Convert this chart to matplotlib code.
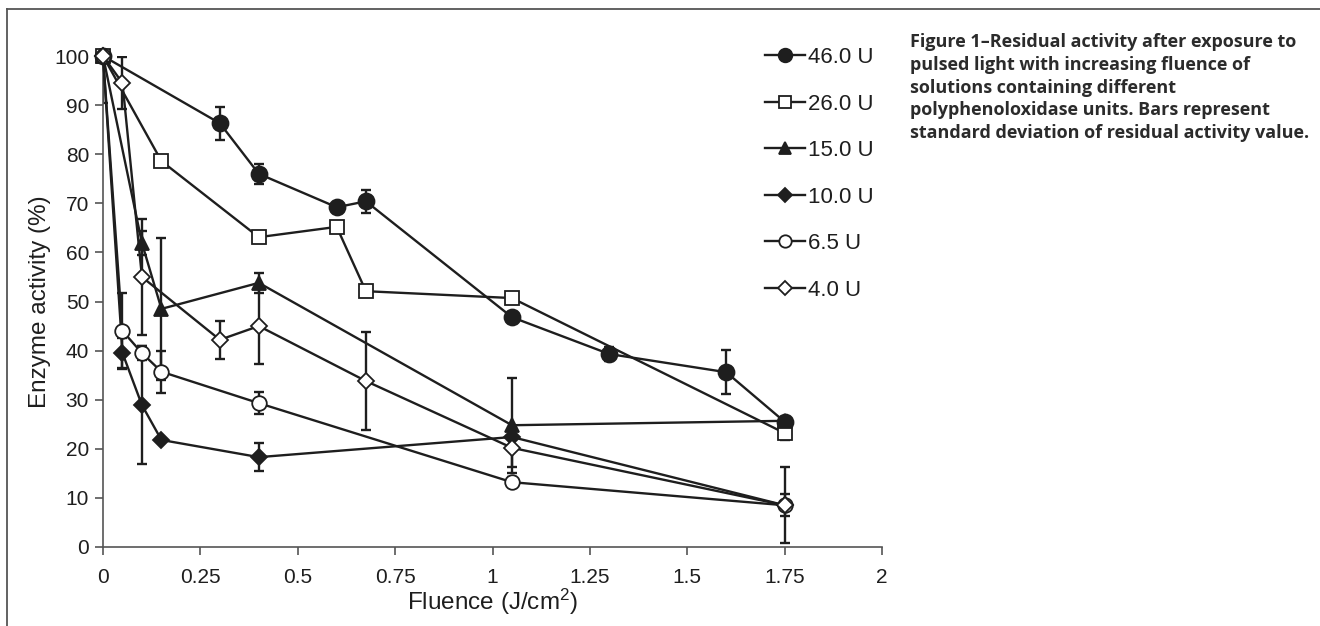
import numpy as np
import matplotlib
matplotlib.use('Agg')
import matplotlib.pyplot as plt
from matplotlib.lines import Line2D

plt.rcParams['font.family'] = ['Liberation Sans', 'DejaVu Sans']
plt.rcParams['mathtext.fontset'] = 'custom'
plt.rcParams['mathtext.rm'] = 'Liberation Sans'
plt.rcParams['mathtext.it'] = 'Liberation Sans'

# data: fluence (J/cm2), activity (%), std dev
labels = ['46.0 U', '26.0 U', '15.0 U', '10.0 U', '6.5 U', '4.0 U']

x_46 = [0, 0.3, 0.4, 0.6, 0.675, 1.05, 1.3, 1.6, 1.75]
y_46 = [100, 86.3, 76.0, 69.2, 70.4, 46.8, 39.3, 35.6, 25.5]
e_46 = [0, 3.4, 2.0, 0, 2.3, 0, 1.5, 4.5, 1.0]

x_26 = [0, 0.15, 0.4, 0.6, 0.675, 1.05, 1.75]
y_26 = [100, 78.6, 63.1, 65.2, 52.1, 50.7, 23.2]
e_26 = [0, 0, 0, 0, 0, 0, 1.5]

x_15 = [0, 0.1, 0.15, 0.4, 1.05, 1.75]
y_15 = [100, 61.9, 48.5, 53.8, 24.8, 25.7]
e_15 = [0, 2.4, 14.4, 2.0, 9.7, 0.5]

x_10 = [0, 0.05, 0.1, 0.15, 0.4, 1.05, 1.75]
y_10 = [100, 39.5, 28.9, 21.8, 18.3, 22.4, 8.5]
e_10 = [0, 3.0, 12.0, 0, 2.9, 0, 2.2]

x_6 = [0, 0.05, 0.1, 0.15, 0.4, 1.05, 1.75]
y_6 = [100, 44.0, 39.5, 35.7, 29.3, 13.2, 8.5]
e_6 = [0, 7.7, 1.5, 4.3, 2.2, 1.0, 0.5]

x_4 = [0, 0.05, 0.1, 0.3, 0.4, 0.675, 1.05, 1.75]
y_4 = [100, 94.5, 55.0, 42.2, 45.0, 33.8, 20.2, 8.5]
e_4 = [9.5, 5.3, 11.8, 3.9, 7.8, 10.0, 4.0, 7.7]

xticks = [0, 0.25, 0.5, 0.75, 1, 1.25, 1.5, 1.75, 2]
xticklabels = ['0', '0.25', '0.5', '0.75', '1', '1.25', '1.5', '1.75', '2']
yticks = list(range(0, 101, 10))

caption = ('Figure 1\u2013Residual activity after exposure to\n'
           'pulsed light with increasing fluence of\n'
           'solutions containing different\n'
           'polyphenoloxidase units. Bars represent\n'
           'standard deviation of residual activity value.')

ink = '#1e1e1e'
series = [
    (x_46, y_46, e_46, 'o', ink, 11.5),
    (x_26, y_26, e_26, 's', 'white', 9.5),
    (x_15, y_15, e_15, '^', ink, 10.5),
    (x_10, y_10, e_10, 'D', ink, 8.5),
    (x_6, y_6, e_6, 'o', 'white', 10.5),
    (x_4, y_4, e_4, 'D', 'white', 8.5),
]

fig = plt.figure(figsize=(13.2, 6.26), dpi=100)
ax = fig.add_axes([103/1320, 1 - 547/626, (882-103)/1320, (547-56)/626])

for (x, y, e, m, fc, ms), lab in zip(series, labels):
    ax.errorbar(x, y, yerr=e, fmt='none', ecolor=ink, elinewidth=1.7,
                capsize=3.6, capthick=1.7, zorder=2)
    ax.plot(x, y, marker=m, color=ink, mfc=fc, mec=ink, mew=1.3, ms=ms,
            lw=1.7, label=lab, clip_on=False, zorder=3)

ax.set_xlim(0, 2)
ax.set_ylim(0, 100)
ax.set_xticks(xticks)
ax.set_xticklabels(xticklabels)
ax.set_yticks(yticks)
for s in ['top', 'right']:
    ax.spines[s].set_visible(False)
for s in ['left', 'bottom']:
    ax.spines[s].set_color('#555555')
    ax.spines[s].set_linewidth(1.2)
ax.tick_params(direction='out', length=6, width=1.2, color='#555555',
               labelsize=15, labelcolor=ink, pad=4)
ax.tick_params(axis='x', pad=9)
ax.set_xlabel('Fluence (J/cm$^{2}$)', fontsize=17.5, color=ink, labelpad=0)
ax.set_ylabel('Enzyme activity (%)', fontsize=17.5, color=ink, labelpad=2)

ax.legend(loc='upper left', bbox_to_anchor=(765/1320, 1 - 47/626),
          bbox_transform=fig.transFigure, frameon=False, fontsize=16,
          handlelength=1.8, handletextpad=0.15, labelspacing=1.15,
          borderpad=0, borderaxespad=0, markerscale=0.85, labelcolor=ink)

fig.text(910/1320, 1 - 33/626, caption, ha='left', va='top', fontsize=13.0,
         family='Open Sans', fontweight='bold', color='#2b2b2b',
         linespacing=1.34)

# figure frame (top and left edges)
fig.add_artist(Line2D([7/1320, 1], [1 - 9/626, 1 - 9/626], color='#555555', lw=1.3))
fig.add_artist(Line2D([7/1320, 7/1320], [0, 1 - 9/626], color='#555555', lw=1.3))

fig.savefig('out.png', dpi=100)
